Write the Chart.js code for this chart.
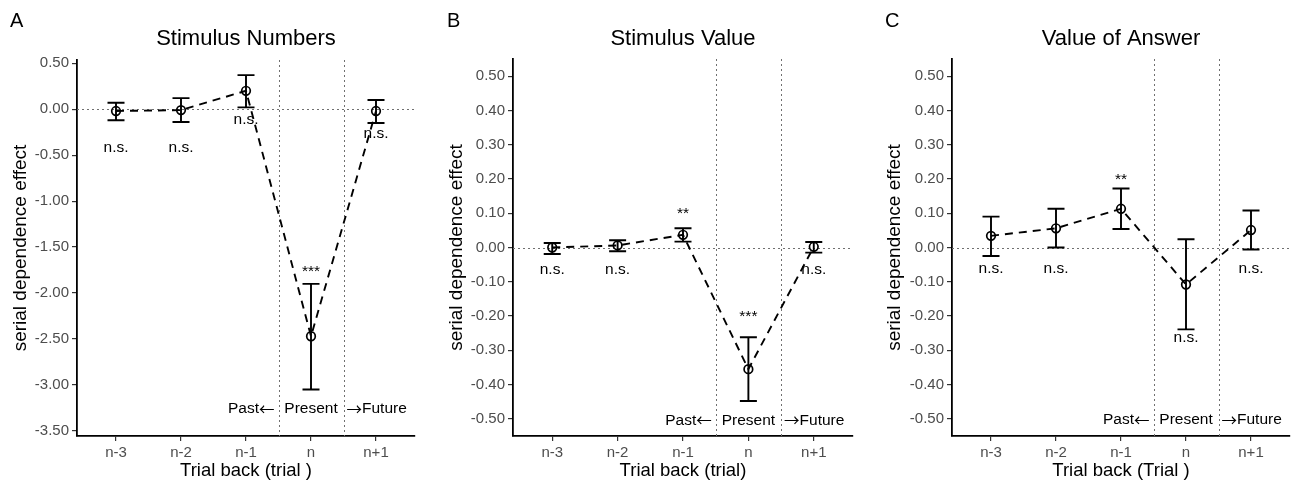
<!DOCTYPE html>
<html>
<head>
<meta charset="utf-8">
<script src="https://cdn.jsdelivr.net/npm/chart.js@4.4.1/dist/chart.umd.min.js"></script>
<style>
html,body{margin:0;padding:0;background:#fff;}
#wrap{position:relative;width:1297px;height:485px;overflow:hidden;background:#fff;}
canvas{position:absolute;top:0;}
</style>
</head>
<body>
<div id="wrap">
<canvas id="cA" style="left:0px" width="430" height="485"></canvas>
<canvas id="cB" style="left:430px" width="430" height="485"></canvas>
<canvas id="cC" style="left:860px" width="437" height="485"></canvas>
</div>
<script>
// ---------- data ----------
const categories = ['n-3', 'n-2', 'n-1', 'n', 'n+1'];
const panelLetters = ['A', 'B', 'C'];
const panelTitles = ['Stimulus Numbers', 'Stimulus Value', 'Value of Answer'];
const xAxisTitles = ['Trial back (trial )', 'Trial back (trial)', 'Trial back (Trial )'];
const yAxisTitle = 'serial dependence effect';
const timeLabels = ['Past', 'Present', 'Future'];
const arrowLeft = '\u2190';
const arrowRight = '\u2192';
const boundaries = [3.5, 4.5];

const yTicksA = [-3.5, -3.0, -2.5, -2.0, -1.5, -1.0, -0.5, 0.0, 0.5];
const yTicksBC = [-0.5, -0.4, -0.3, -0.2, -0.1, 0.0, 0.1, 0.2, 0.3, 0.4, 0.5];

const meanA = [-0.02, -0.01, 0.20, -2.47, -0.02];
const lowA  = [-0.12, -0.14, 0.02, -3.05, -0.15];
const highA = [0.07, 0.12, 0.37, -1.90, 0.10];
const sigA  = ['n.s.', 'n.s.', 'n.s.', '***', 'n.s.'];
const sigYA = [-0.417, -0.417, -0.11, -1.766, -0.265];
const timeYA = -3.26;

const meanB = [0.000, 0.006, 0.037, -0.355, 0.002];
const lowB  = [-0.019, -0.011, 0.017, -0.448, -0.015];
const highB = [0.013, 0.021, 0.056, -0.262, 0.016];
const sigB  = ['n.s.', 'n.s.', '**', '***', 'n.s.'];
const sigYB = [-0.0645, -0.0645, 0.098, -0.202, -0.0645];
const timeYB = -0.504;

const meanC = [0.034, 0.056, 0.113, -0.108, 0.051];
const lowC  = [-0.025, 0.000, 0.054, -0.239, -0.006];
const highC = [0.090, 0.113, 0.172, 0.024, 0.108];
const sigC  = ['n.s.', 'n.s.', '**', 'n.s.', 'n.s.'];
const sigYC = [-0.061, -0.061, 0.197, -0.264, -0.061];
const timeYC = -0.503;

// ---------- layout / style ----------
const FONT = '"Liberation Sans", Arial, Helvetica, sans-serif';
const CJK = '"Noto Sans CJK SC", "DejaVu Sans", sans-serif';
Chart.defaults.font.family = FONT;

const panels = [
  {id: 'cA', w: 430, plotLeft: 77, plotRight: 415, plotTop: 60, min: -3.555, max: 0.535,
   ticks: yTicksA, mean: meanA, low: lowA, high: highA, sig: sigA, sigY: sigYA, timeY: timeYA,
   letterX: 10, yTitlePad: 9, idx: 0},
  {id: 'cB', w: 430, plotLeft: 83, plotRight: 423, plotTop: 59, min: -0.55, max: 0.55,
   ticks: yTicksBC, mean: meanB, low: lowB, high: highB, sig: sigB, sigY: sigYB, timeY: timeYB,
   letterX: 17, yTitlePad: 15, idx: 1},
  {id: 'cC', w: 437, plotLeft: 92, plotRight: 430, plotTop: 59, min: -0.55, max: 0.55,
   ticks: yTicksBC, mean: meanC, low: lowC, high: highC, sig: sigC, sigY: sigYC, timeY: timeYC,
   letterX: 25, yTitlePad: 23, idx: 2}
];

const ANNO = 15.5;

function drawRuns(ctx, runs, x, y, align) {
  let total = 0;
  runs.forEach(r => { ctx.font = ANNO + 'px ' + r.f; r.w = ctx.measureText(r.t).width; total += r.w; });
  let sx = align === 'right' ? x - total : (align === 'center' ? x - total / 2 : x);
  ctx.textAlign = 'left';
  runs.forEach(r => { ctx.font = ANNO + 'px ' + r.f; ctx.fillText(r.t, sx, y); sx += r.w; });
}

function makeDecor(p) {
  return {
    id: 'decor' + p.idx,
    beforeDatasetsDraw(chart) {
      const {ctx, chartArea: a, scales: {x, y}} = chart;
      ctx.save();
      ctx.strokeStyle = '#707070';
      ctx.lineWidth = 1;
      ctx.setLineDash([2, 3]);
      const y0 = Math.round(y.getPixelForValue(0)) + 0.5;
      ctx.beginPath(); ctx.moveTo(a.left, y0); ctx.lineTo(a.right, y0); ctx.stroke();
      boundaries.forEach(b => {
        const xb = Math.round(x.getPixelForValue(b)) + 0.5;
        ctx.beginPath(); ctx.moveTo(xb, a.top); ctx.lineTo(xb, a.bottom); ctx.stroke();
      });
      ctx.restore();
    },
    afterDatasetsDraw(chart) {
      const {ctx, scales: {x, y}} = chart;
      ctx.save();
      ctx.strokeStyle = '#000';
      ctx.lineWidth = 1.9;
      ctx.setLineDash([]);
      const cap = 8.5;
      categories.forEach((c, i) => {
        const px = x.getPixelForValue(i + 1);
        const yl = y.getPixelForValue(p.low[i]);
        const yh = y.getPixelForValue(p.high[i]);
        ctx.beginPath();
        ctx.moveTo(px, yl); ctx.lineTo(px, yh);
        ctx.moveTo(px - cap, yl); ctx.lineTo(px + cap, yl);
        ctx.moveTo(px - cap, yh); ctx.lineTo(px + cap, yh);
        ctx.stroke();
      });
      ctx.fillStyle = '#000';
      ctx.font = ANNO + 'px ' + FONT;
      ctx.textAlign = 'center';
      ctx.textBaseline = 'middle';
      categories.forEach((c, i) => {
        ctx.fillText(p.sig[i], x.getPixelForValue(i + 1), y.getPixelForValue(p.sigY[i]));
      });
      const ty = y.getPixelForValue(p.timeY);
      const b1 = x.getPixelForValue(boundaries[0]);
      const b2 = x.getPixelForValue(boundaries[1]);
      drawRuns(ctx, [{t: timeLabels[0], f: FONT}, {t: arrowLeft, f: CJK}], b1 - 4, ty, 'right');
      drawRuns(ctx, [{t: timeLabels[1], f: FONT}], x.getPixelForValue(4), ty, 'center');
      drawRuns(ctx, [{t: arrowRight, f: CJK}, {t: timeLabels[2], f: FONT}], b2 + 3, ty, 'left');
      ctx.restore();
    },
    afterDraw(chart) {
      const {ctx, chartArea: a} = chart;
      ctx.save();
      ctx.fillStyle = '#000';
      ctx.textBaseline = 'alphabetic';
      ctx.font = '22px ' + FONT;
      ctx.textAlign = 'center';
      ctx.fillText(panelTitles[p.idx], (a.left + a.right) / 2, 45);
      ctx.font = '20px ' + FONT;
      ctx.textAlign = 'left';
      ctx.fillText(panelLetters[p.idx], p.letterX, 27);
      ctx.restore();
    }
  };
}

panels.forEach(p => {
  const ctx = document.getElementById(p.id);
  new Chart(ctx, {
    type: 'line',
    data: {
      datasets: [{
        data: p.mean.map((v, i) => ({x: i + 1, y: v})),
        borderColor: '#000',
        borderWidth: 1.9,
        borderDash: [8, 6],
        tension: 0,
        fill: false,
        pointRadius: 4.3,
        pointHoverRadius: 4.3,
        pointBorderWidth: 1.7,
        pointBorderColor: '#000',
        pointBackgroundColor: 'rgba(0,0,0,0)'
      }]
    },
    options: {
      responsive: false,
      animation: false,
      events: [],
      layout: {padding: {top: p.plotTop, left: 0, right: p.w - p.plotRight, bottom: 0}},
      plugins: {legend: {display: false}, tooltip: {enabled: false}, title: {display: false}},
      scales: {
        x: {
          type: 'linear', min: 0.4, max: 5.6,
          afterBuildTicks: s => { s.ticks = categories.map((c, i) => ({value: i + 1})); },
          afterFit: s => { s.height = 49; },
          ticks: {
            callback: v => categories[Math.round(v) - 1] ?? '',
            color: '#4d4d4d', font: {size: 15}, padding: 3, maxRotation: 0, autoSkip: false
          },
          grid: {display: true, drawOnChartArea: false, drawTicks: true, tickLength: 5, color: '#333', lineWidth: 1.2},
          border: {display: true, color: '#000', width: 1.8},
          title: {display: true, text: xAxisTitles[p.idx], color: '#000', font: {size: 18.5}, padding: {top: 0, bottom: 3}}
        },
        y: {
          type: 'linear', min: p.min, max: p.max,
          afterBuildTicks: s => { s.ticks = p.ticks.map(v => ({value: v})); },
          afterFit: s => { s.width = p.plotLeft; },
          ticks: {
            callback: v => Number(v).toFixed(2),
            color: '#4d4d4d', font: {size: 15}, padding: 3
          },
          grid: {display: true, drawOnChartArea: false, drawTicks: true, tickLength: 5, color: '#333', lineWidth: 1.2},
          border: {display: true, color: '#000', width: 1.8},
          title: {display: true, text: yAxisTitle, color: '#000', font: {size: 19}, padding: {top: p.yTitlePad, bottom: 0}}
        }
      }
    },
    plugins: [makeDecor(p)]
  });
});
</script>
</body>
</html>
